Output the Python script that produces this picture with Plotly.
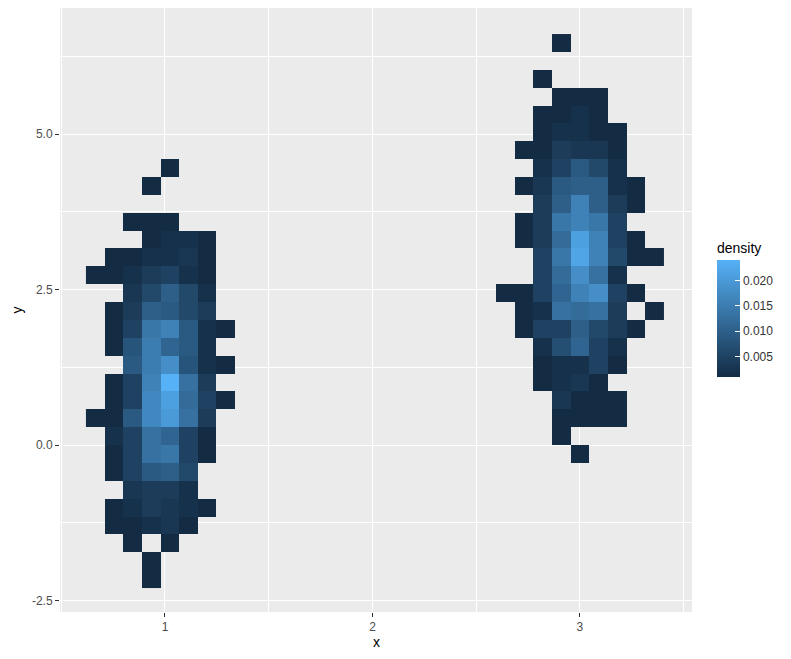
import plotly.graph_objects as go

# 2-D bin grid (31 x 31 bins)
X_START, X_WIDTH, N_XBINS = 0.619, 0.0899, 31
Y_START, Y_WIDTH, N_YBINS = -2.299, 0.2873, 31
N_POINTS = 1000

# counts per bin: y bin (from bottom) -> (first x bin, counts along x)
LEFT_CLUSTER = {
    23: (4, [1]),
    22: (3, [1]),
    20: (2, [1, 1, 1]),
    19: (3, [1, 2, 2, 1]),
    18: (1, [1, 1, 2, 2, 3, 1]),
    17: (0, [1, 1, 2, 4, 5, 2, 1]),
    16: (2, [3, 6, 10, 6, 2]),
    15: (1, [1, 4, 10, 9, 6, 4]),
    14: (1, [1, 5, 14, 16, 9, 2, 1]),
    13: (1, [1, 8, 15, 11, 9, 2]),
    12: (2, [9, 15, 18, 8, 2, 1]),
    11: (1, [1, 5, 16, 24, 13, 4]),
    10: (1, [1, 5, 17, 21, 12, 5, 1]),
    9: (0, [1, 1, 9, 17, 20, 13, 4]),
    8: (1, [2, 5, 13, 11, 5, 1]),
    7: (1, [1, 5, 13, 14, 5, 1]),
    6: (1, [1, 5, 9, 10, 6]),
    5: (2, [3, 4, 4, 2]),
    4: (1, [1, 2, 4, 3, 2, 1]),
    3: (1, [1, 1, 2, 3, 1]),
    2: (2, [1, 0, 1]),
    1: (3, [1]),
    0: (3, [1]),
}

RIGHT_CLUSTER = {
    30: (25, [1]),
    28: (24, [1]),
    27: (25, [1, 1, 1]),
    26: (24, [1, 1, 2, 1]),
    25: (24, [1, 2, 2, 1, 1]),
    24: (23, [1, 1, 4, 3, 3, 1]),
    23: (24, [2, 5, 9, 6, 2]),
    22: (23, [1, 3, 9, 10, 10, 2, 1]),
    21: (24, [4, 10, 16, 10, 4, 1]),
    20: (23, [1, 4, 14, 16, 14, 5]),
    19: (23, [1, 4, 12, 21, 16, 5, 1]),
    18: (24, [5, 14, 22, 16, 6, 1, 1]),
    17: (24, [5, 12, 18, 13, 2]),
    16: (22, [1, 1, 5, 11, 16, 18, 5, 1]),
    15: (23, [1, 2, 13, 12, 13, 4, 0, 1]),
    14: (23, [1, 5, 5, 10, 6, 4, 1]),
    13: (24, [2, 7, 11, 5, 2]),
    12: (24, [1, 2, 2, 5, 1]),
    11: (24, [1, 2, 3, 1]),
    10: (25, [3, 1, 1, 1]),
    9: (25, [1, 1, 1, 1]),
    8: (25, [1]),
    7: (26, [1]),
}

X_TICKS = [1, 2, 3]
Y_TICKS = [-2.5, 0.0, 2.5, 5.0]
LEGEND_TICKS = [0.005, 0.010, 0.015, 0.020]

x_centres = [X_START + X_WIDTH * (i + 0.5) for i in range(N_XBINS)]
y_centres = [Y_START + Y_WIDTH * (j + 0.5) for j in range(N_YBINS)]

z = [[None] * N_XBINS for _ in range(N_YBINS)]
for cluster in (LEFT_CLUSTER, RIGHT_CLUSTER):
    for j, (first, counts) in cluster.items():
        for i, c in enumerate(counts):
            if c:
                z[j][first + i] = c / N_POINTS

grid = dict(gridcolor="white", gridwidth=1.1)
minor_grid = dict(showgrid=True, gridcolor="white", gridwidth=0.5)

fig = go.Figure()
fig.add_trace(go.Heatmap(
    x=x_centres, y=y_centres, z=z,
    colorscale=[[0, "#132B43"], [1, "#56B1F7"]],
    hoverongaps=False,
    colorbar=dict(
        title=dict(text="density", side="top",
                   font=dict(size=14, color="#000000")),
        x=1.0396, xanchor="left", y=0.5033, yanchor="middle",
        thickness=23, len=138, lenmode="pixels",
        outlinewidth=0, xpad=0, ypad=0,
        tickvals=LEGEND_TICKS,
        ticktext=[f"{v:.3f}" for v in LEGEND_TICKS],
        ticks="inside", ticklen=5, tickcolor="white",
        tickfont=dict(size=12, color="#333333"),
    ),
))

# x title as an annotation: the axis title gets squeezed by the thin margin
fig.add_annotation(text="x", xref="paper", yref="paper", x=0.5, y=-0.049,
                   xanchor="center", yanchor="middle", showarrow=False,
                   font=dict(size=14, color="#000000"))

# the page body adds an 8px offset, so the figure is sized to fit inside it
fig.update_layout(
    width=775, height=643,
    margin=dict(l=52, r=91, t=0, b=39, autoexpand=False),
    paper_bgcolor="white", plot_bgcolor="#EBEBEB",
    font=dict(family="Liberation Sans, Arial, sans-serif"),
    xaxis=dict(range=[0.494, 3.540], tickvals=X_TICKS,
               ticks="outside", ticklen=4, tickcolor="#333333",
               tickfont=dict(size=12, color="#4D4D4D"),
               zeroline=False, showline=False, automargin=False,
               minor=dict(dtick=0.5, tick0=0.5, **minor_grid), **grid),
    yaxis=dict(range=[-2.685, 7.026], tickvals=Y_TICKS,
               ticktext=[f"{v:.1f}" for v in Y_TICKS],
               ticks="outside", ticklen=4, tickcolor="#333333",
               tickfont=dict(size=12, color="#4D4D4D"),
               title=dict(text="y", font=dict(size=14, color="#000000"),
                          standoff=6),
               zeroline=False, showline=False, automargin=False,
               minor=dict(dtick=1.25, tick0=-1.25, **minor_grid), **grid),
)

fig.write_html("out.html")
